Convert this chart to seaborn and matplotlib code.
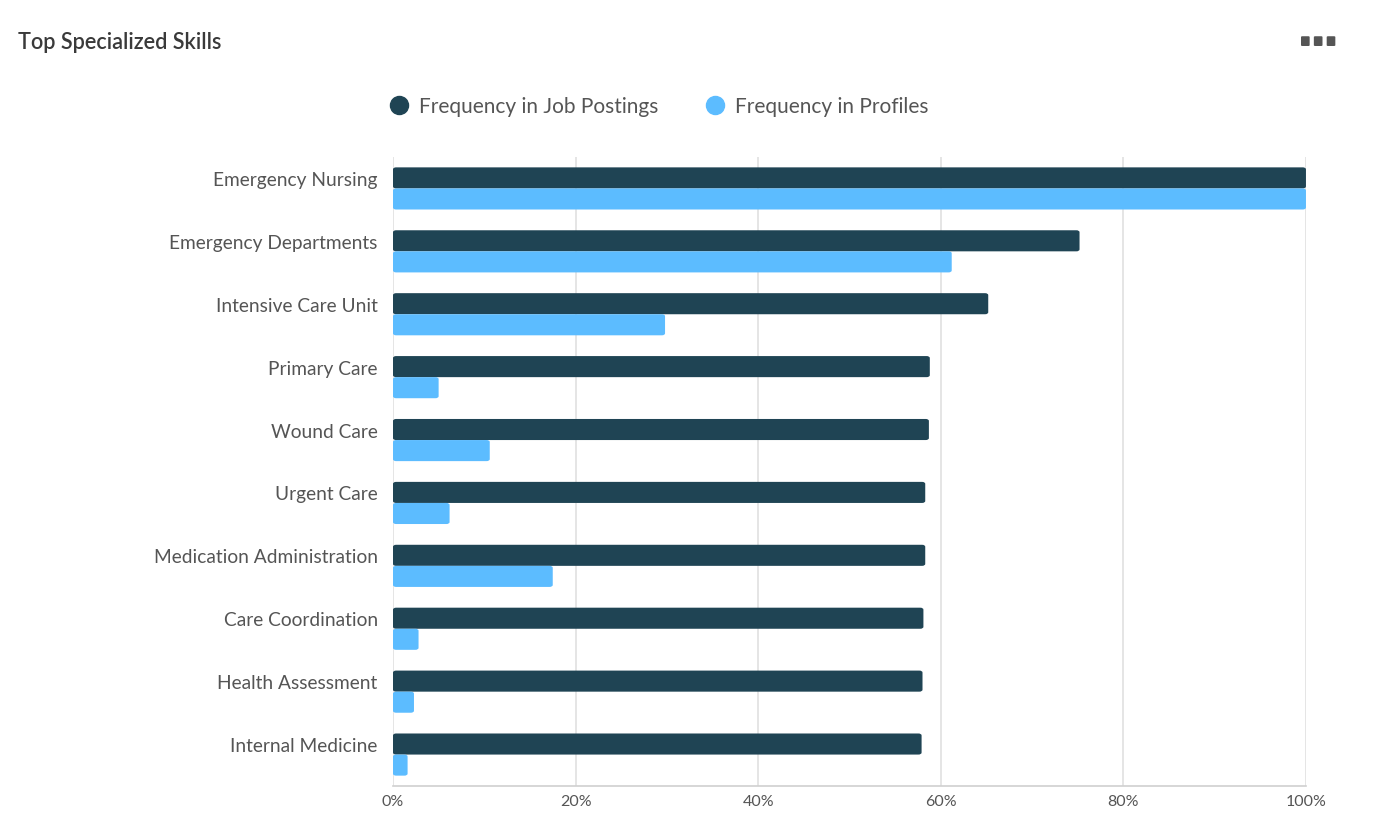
import pandas as pd
import matplotlib.pyplot as plt
import matplotlib.transforms as mtransforms
import seaborn as sns
from matplotlib.patches import FancyBboxPatch
from matplotlib.lines import Line2D

skills = ["Emergency Nursing", "Emergency Departments", "Intensive Care Unit",
          "Primary Care", "Wound Care", "Urgent Care", "Medication Administration",
          "Care Coordination", "Health Assessment", "Internal Medicine"]
job_postings = [100, 75.2, 65.2, 58.8, 58.7, 58.3, 58.3, 58.1, 58.0, 57.9]
profiles = [100, 61.2, 29.8, 5.0, 10.6, 6.2, 17.5, 2.8, 2.3, 1.6]
series_names = ["Frequency in Job Postings", "Frequency in Profiles"]
colors = ["#1f4454", "#5cbcff"]
text_col = "#555555"

df = pd.DataFrame({
    "Skill": skills * 2,
    "Value": job_postings + profiles,
    "Series": [series_names[0]] * len(skills) + [series_names[1]] * len(skills),
})

sns.set_style("white")
plt.rcParams["font.family"] = ["Lato", "DejaVu Sans"]

fig = plt.figure(figsize=(13.96, 8.28), dpi=100)
ax = fig.add_axes([0.2815, 0.0495, 0.654, 0.7597])

sns.barplot(data=df, x="Value", y="Skill", hue="Series", palette=colors,
            orient="h", width=0.67, saturation=1, legend=False, ax=ax, zorder=3)

# soften bar corners a little
for p in list(ax.patches):
    x0, y0 = p.get_x(), p.get_y()
    w, h = p.get_width(), p.get_height()
    fc = p.get_facecolor()
    p.remove()
    ax.add_patch(FancyBboxPatch((x0, y0), w, h,
                                boxstyle="round,pad=0,rounding_size=0.35",
                                mutation_aspect=0.09, facecolor=fc,
                                edgecolor="none", zorder=3))

ax.set_xlim(0, 100)
ax.set_ylim(len(skills) - 0.5, -0.5)
ax.set_xticks([0, 20, 40, 60, 80, 100])
ax.set_xticklabels([f"{t}%" for t in [0, 20, 40, 60, 80, 100]])
ax.grid(axis="x", color="#e0e0e0", linewidth=1.2, zorder=0)
ax.set_xlabel("")
ax.set_ylabel("")
for s in ["top", "right", "left"]:
    ax.spines[s].set_visible(False)
ax.spines["bottom"].set_color("#d0d0d0")
ax.spines["bottom"].set_linewidth(1.2)
ax.tick_params(axis="x", length=0, pad=6, labelsize=11.5, labelcolor=text_col)
ax.tick_params(axis="y", length=0, pad=11, labelsize=13.8, labelcolor=text_col)

# labels sit level with the first (dark) bar of each pair
shift = mtransforms.ScaledTranslation(0, 0.105, fig.dpi_scale_trans)
for lab in ax.get_yticklabels():
    lab.set_transform(lab.get_transform() + shift)

fig.text(0.013, 0.949, "Top Specialized Skills", fontsize=15.6, color="#3a3a3a",
         fontweight="semibold", va="center", ha="left")

# menu dots
for i in range(3):
    fig.patches.append(FancyBboxPatch((1301 / 1396 + i * 0.0092, 1 - 47 / 828),
                                      0.0062, 0.0118,
                                      boxstyle="round,pad=0,rounding_size=0.001",
                                      transform=fig.transFigure,
                                      facecolor="#555555", edgecolor="none"))

handles = [Line2D([0], [0], marker="o", linestyle="", markersize=13,
                  markerfacecolor=c, markeredgecolor=c) for c in colors]
fig.legend(handles, series_names, loc="center", bbox_to_anchor=(0.4695, 0.871),
           ncol=2, frameon=False, fontsize=15, labelcolor=text_col,
           handletextpad=0.15, handlelength=1.6, columnspacing=1.95)

fig.savefig("out.png", dpi=100, facecolor="white")
